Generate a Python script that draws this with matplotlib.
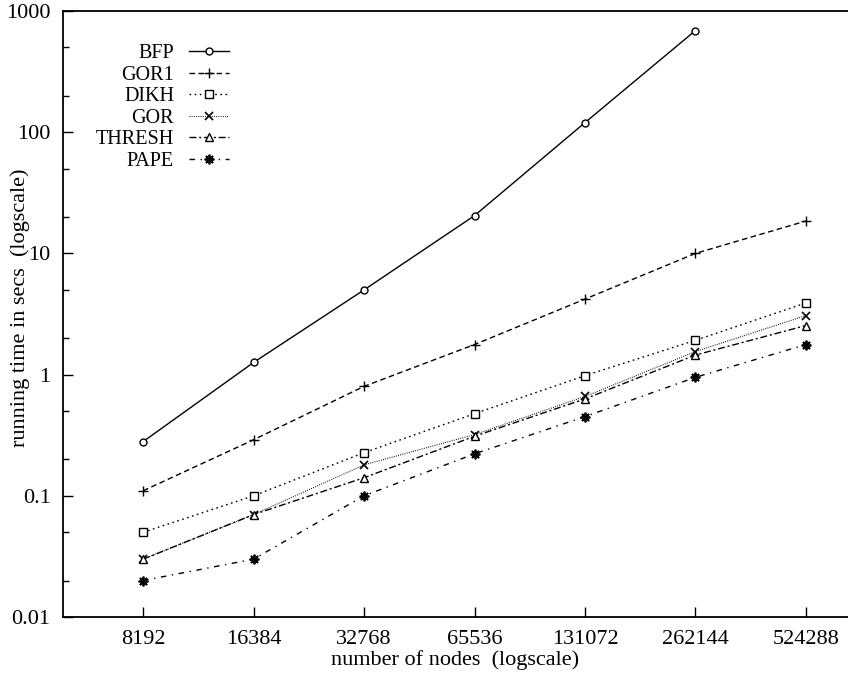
import numpy as np
import matplotlib
matplotlib.use('Agg')
import matplotlib.pyplot as plt
from matplotlib.ticker import FixedLocator, NullLocator, LogLocator, NullFormatter

plt.rcParams['font.family'] = ['Liberation Serif', 'DejaVu Serif']

# number of nodes
nodes = [8192, 16384, 32768, 65536, 131072, 262144, 524288]
node_labels = ['8192', '16384', '32768', '65536', '131072', '262144', '524288']

# running times in secs
bfp    = [0.28, 1.26, 5.0, 20.5, 120, 690]
gor1   = [0.11, 0.29, 0.80, 1.77, 4.2, 10.0, 18.5]
dikh   = [0.05, 0.10, 0.227, 0.476, 0.98, 1.92, 3.9]
gor    = [0.03, 0.07, 0.18, 0.32, 0.66, 1.55, 3.07]
thresh = [0.03, 0.07, 0.141, 0.31, 0.63, 1.45, 2.54]
pape   = [0.02, 0.03, 0.10, 0.222, 0.45, 0.95, 1.77]

fig = plt.figure(figsize=(8.48, 6.75), dpi=100)
ax = fig.add_axes([63/848, 58/675, 785/848, 606/675])

ax.plot(nodes[:len(bfp)], bfp, color='k', lw=1.0, linestyle='-',
        marker='o', ms=5, mfc='white', mew=1.0, label='BFP')
ax.plot(nodes, gor1, color='k', lw=1.0, dashes=(4, 2.5),
        marker='+', ms=7, mew=1.0, label='GOR1')
ax.plot(nodes, dikh, color='k', lw=1.0, dashes=(1.2, 2.5),
        marker='s', ms=6, mfc='white', mew=1.0, label='DIKH')
ax.plot(nodes, gor, color='k', lw=0.8, dashes=(0.8, 1.2),
        marker='x', ms=6, mew=1.2, label='GOR')
ax.plot(nodes, thresh, color='k', lw=1.0, dashes=(5, 2, 1.5, 2),
        marker='^', ms=6, mfc='white', mew=1.0, label='THRESH')
ax.plot(nodes, pape, color='k', lw=1.0, dashes=(4, 4, 1, 4),
        marker=(8, 2, 0), ms=7, mew=1.3, label='PAPE')

ax.set_xscale('log')
ax.set_yscale('log')
ax.set_xlim(4955, 682700)
ax.set_ylim(0.01, 1000)

ax.xaxis.set_major_locator(FixedLocator(nodes))
ax.set_xticklabels(node_labels)
ax.xaxis.set_minor_locator(NullLocator())

yt = [0.01, 0.1, 1, 10, 100, 1000]
ax.yaxis.set_major_locator(FixedLocator(yt))
ax.set_yticklabels(['0.01', '0.1', '1', '10', '100', '1000'])
ax.yaxis.set_minor_locator(LogLocator(base=10, subs=(2, 5)))
ax.yaxis.set_minor_formatter(NullFormatter())

ax.tick_params(axis='both', which='major', direction='in', length=7,
               width=1, labelsize=16, pad=9)
ax.tick_params(axis='y', which='minor', direction='in', length=4, width=1)
ax.tick_params(top=False, right=False, which='both')

for s in ['left', 'bottom', 'top']:
    ax.spines[s].set_linewidth(1.3)
ax.spines['right'].set_visible(False)

# axis labels placed as in the reference
ax.set_xlabel('number of nodes  (logscale)', fontsize=16)
ax.xaxis.set_label_coords(0.5, -0.054)
ax.set_ylabel('running time in secs  (logscale)', fontsize=16)
ax.yaxis.label.set_verticalalignment('center')
ax.yaxis.set_label_coords(-0.055, 0.51)

leg = ax.legend(loc='upper right', bbox_to_anchor=(0.235, 0.975), frameon=False,
                markerfirst=False, fontsize=14.5, handlelength=2.0,
                labelspacing=0.12, handletextpad=0.75, numpoints=1)

fig.savefig('out.png', dpi=100)
